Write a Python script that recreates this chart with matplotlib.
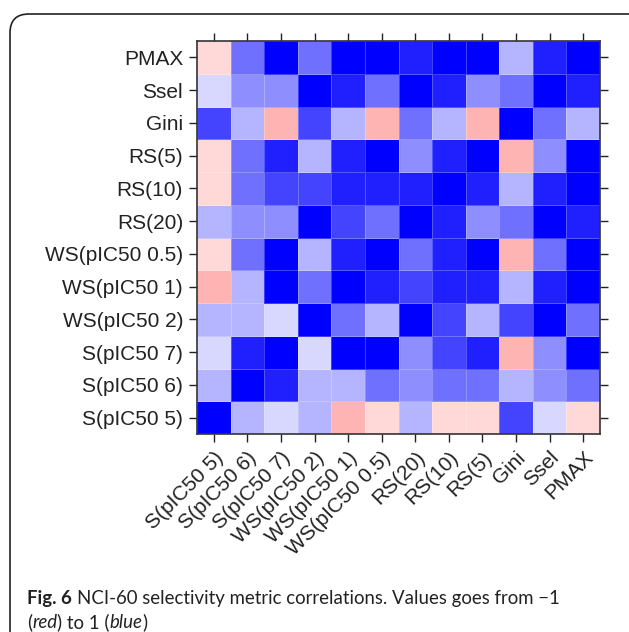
import matplotlib.pyplot as plt
import numpy as np
from matplotlib.colors import LinearSegmentedColormap
from matplotlib.patches import FancyBboxPatch

# metric names, same order on both axes (bottom-to-top on y)
metrics = ["S(pIC50 5)", "S(pIC50 6)", "S(pIC50 7)", "WS(pIC50 2)", "WS(pIC50 1)",
           "WS(pIC50 0.5)", "RS(20)", "RS(10)", "RS(5)", "Gini", "Ssel", "PMAX"]

# correlation rows, one list per metric (columns follow `metrics`)
r_s5 = [1.00, 0.29, 0.15, 0.29, -0.29, -0.15, 0.29, -0.15, -0.15, 0.73, 0.15, -0.15]
r_s6 = [0.29, 1.00, 0.87, 0.29, 0.29, 0.56, 0.44, 0.56, 0.56, 0.29, 0.44, 0.56]
r_s7 = [0.15, 0.87, 1.00, 0.15, 1.00, 1.00, 0.44, 0.73, 0.87, -0.29, 0.44, 1.00]
r_ws2 = [0.29, 0.29, 0.15, 1.00, 0.56, 0.29, 1.00, 0.73, 0.29, 0.73, 1.00, 0.56]
r_ws1 = [-0.29, 0.29, 1.00, 0.56, 1.00, 0.87, 0.73, 0.87, 0.87, 0.29, 0.87, 1.00]
r_ws05 = [-0.15, 0.56, 1.00, 0.29, 0.87, 1.00, 0.56, 0.87, 1.00, -0.29, 0.56, 1.00]
r_rs20 = [0.29, 0.44, 0.44, 1.00, 0.73, 0.56, 1.00, 0.87, 0.44, 0.56, 1.00, 0.87]
r_rs10 = [-0.15, 0.56, 0.73, 0.73, 0.87, 0.87, 0.87, 1.00, 0.87, 0.29, 0.87, 1.00]
r_rs5 = [-0.15, 0.56, 0.87, 0.29, 0.87, 1.00, 0.44, 0.87, 1.00, -0.29, 0.44, 1.00]
r_gini = [0.73, 0.29, -0.29, 0.73, 0.29, -0.29, 0.56, 0.29, -0.29, 1.00, 0.56, 0.29]
r_ssel = [0.15, 0.44, 0.44, 1.00, 0.87, 0.56, 1.00, 0.87, 0.44, 0.56, 1.00, 0.87]
r_pmax = [-0.15, 0.56, 1.00, 0.56, 1.00, 1.00, 0.87, 1.00, 1.00, 0.29, 0.87, 1.00]

corr = np.array([r_s5, r_s6, r_s7, r_ws2, r_ws1, r_ws05,
                 r_rs20, r_rs10, r_rs5, r_gini, r_ssel, r_pmax])

cmap = LinearSegmentedColormap.from_list("rwb", ["#ff0000", "#ffffff", "#0000ff"])

W, H = 629, 632
fig = plt.figure(figsize=(W / 100, H / 100), dpi=100)

# rounded caption frame
box = FancyBboxPatch((10 / W, -0.05), 1.05, 1 - 14 / H + 0.05,
                     boxstyle="round,pad=0,rounding_size=0.03",
                     transform=fig.transFigure, facecolor="none",
                     edgecolor="#222222", linewidth=1.2, zorder=0)
fig.patches.append(box)

ax = fig.add_axes([197 / W, 1 - 434 / H, 403 / W, 393 / H])
n = len(metrics)
ax.pcolormesh(np.arange(n + 1) - 0.5, np.arange(n + 1) - 0.5, corr,
              cmap=cmap, vmin=-1, vmax=1,
              edgecolors=(1, 1, 1, 0.25), linewidth=0.6)
ax.set_xlim(-0.5, n - 0.5)
ax.set_ylim(-0.5, n - 0.5)

ax.set_xticks(range(n))
ax.set_yticks(range(n))
ax.set_xticklabels(metrics, rotation=45, ha="right", rotation_mode="anchor",
                   fontsize=15, family="Liberation Sans")
ax.set_yticklabels(metrics, fontsize=15, family="Liberation Sans")
ax.tick_params(direction="out", length=6, width=1, top=True, right=True,
               colors="#222222", labelcolor="#222222", pad=4)
for s in ax.spines.values():
    s.set_linewidth(1.2)
    s.set_color("#333333")

# caption, written piece by piece so the bold / italic parts line up
renderer = fig.canvas.get_renderer()
cap = dict(fontsize=13.4, family="Lato", va="baseline", color="#222222")


def put(x, y, s, **kw):
    t = fig.text(x / W, 1 - y / H, s, **{**cap, **kw})
    return x + t.get_window_extent(renderer).width


x = put(27, 604, "Fig. 6", weight="bold")
put(x + 5, 604, "NCI-60 selectivity metric correlations. Values goes from \u22121")
x = put(27, 628, "(")
x = put(x, 628, "red", style="italic")
x = put(x, 628, ") to 1 (")
x = put(x, 628, "blue", style="italic")
put(x, 628, ")")

plt.savefig("out.png", dpi=100)
